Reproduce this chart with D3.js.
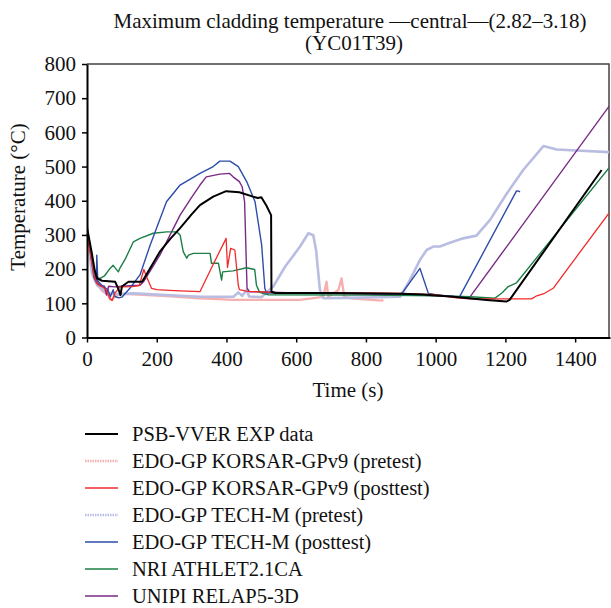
<!DOCTYPE html>
<html><head><meta charset="utf-8">
<script src="https://cdn.jsdelivr.net/npm/d3@7"></script>
<style>body{margin:0;background:#fff}svg{display:block}text{font-family:"Liberation Serif","Times New Roman",serif;fill:#111}</style>
</head><body><svg id="c" width="611" height="608"></svg>
<script>
const titleLines = ["Maximum cladding temperature \u2014central\u2014(2.82\u20133.18)", "(YC01T39)"];
const xTicks = [0,200,400,600,800,1000,1200,1400];
const yTicks = [0,100,200,300,400,500,600,700,800];
const seriesNames = ["PSB-VVER EXP data","EDO-GP KORSAR-GPv9 (pretest)","EDO-GP KORSAR-GPv9 (posttest)","EDO-GP TECH-M (pretest)","EDO-GP TECH-M (posttest)","NRI ATHLET2.1CA","UNIPI RELAP5-3D"];

const expData = [[0,320],[5,295],[14,246],[22,197],[29,173],[43,166],[81,163],[91,139],[96,124],[100,149],[119,163],[158,163],[167,178],[190,218],[209,251],[240,290],[267,320],[300,360],[324,387],[362,412],[399,428],[437,425],[476,412],[490,408],[500,410],[514,387],[528,358],[529,134],[540,130],[700,130],[900,128],[964,126],[1050,119],[1146,110],[1203,105],[1212,110],[1476,490]];
const korsarPre = [[0,330],[8,260],[14,207],[24,168],[43,137],[60,125],[66,112],[72,110],[80,120],[100,128],[133,126],[228,121],[324,115],[420,110],[476,110],[611,110],[678,119],[687,163],[692,119],[721,139],[730,173],[738,119],[756,115],[845,108],[850,110]];
const korsarPost = [[0,310],[10,240],[20,180],[30,155],[42,149],[55,140],[65,115],[72,108],[80,130],[95,148],[129,149],[150,152],[163,199],[172,175],[185,144],[200,140],[250,137],[324,134],[360,210],[399,290],[403,205],[412,261],[424,256],[429,205],[434,152],[437,140],[460,135],[540,132],[700,131],[900,129],[1000,125],[1060,116],[1100,113],[1275,113],[1290,122],[1310,128],[1337,144],[1500,368]];
const techPre = [[0,310],[8,240],[14,188],[29,153],[45,140],[62,129],[90,127],[133,129],[228,124],[324,119],[420,119],[434,132],[445,122],[458,139],[465,120],[500,118],[534,149],[568,207],[611,266],[635,305],[649,299],[657,256],[668,139],[678,115],[750,116],[898,119],[926,168],[955,227],[974,256],[993,266],[1012,266],[1041,277],[1079,290],[1117,298],[1156,344],[1204,421],[1251,490],[1309,560],[1347,550],[1500,542]];
const techPost = [[0,315],[10,250],[20,175],[27,160],[28,241],[31,165],[45,150],[60,140],[67,119],[75,140],[80,120],[91,116],[100,118],[123,144],[152,183],[181,270],[228,397],[267,446],[324,480],[362,500],[381,516],[410,516],[434,500],[458,456],[482,397],[501,270],[510,144],[515,130],[700,130],[900,128],[907,134],[955,202],[979,129],[1000,125],[1068,118],[1232,429],[1238,428],[1242,426]];
const nriData = [[0,315],[10,250],[20,190],[30,175],[38,173],[50,180],[66,202],[75,211],[90,192],[94,202],[110,230],[133,280],[152,290],[190,305],[229,309],[257,309],[267,300],[276,251],[286,232],[291,241],[305,246],[353,246],[357,217],[377,217],[386,168],[389,192],[419,195],[457,204],[481,199],[486,153],[495,132],[520,125],[800,124],[1000,122],[1100,119],[1170,115],[1190,130],[1208,149],[1232,160],[1500,500]];
const unipiData = [[0,315],[10,260],[20,190],[30,160],[37,153],[50,150],[56,124],[62,150],[80,148],[100,150],[152,153],[162,163],[209,241],[267,358],[300,410],[324,446],[342,470],[381,478],[409,480],[419,470],[437,456],[445,441],[452,397],[459,144],[466,134],[600,130],[800,127],[950,124],[1050,120],[1098,118],[1500,680]];

const series = [
  {name: seriesNames[0], data: expData,   color: "#000000", w: 2,   dash: null, lw: 2},
  {name: seriesNames[1], data: korsarPre, color: "#f7b0b0", w: 2.4, dash: "1.5,1", lw: 2.4},
  {name: seriesNames[2], data: korsarPost,color: "#f22a2a", w: 1.3, dash: null, lw: 1.6},
  {name: seriesNames[3], data: techPre,   color: "#b9bde2", w: 2.6, dash: "1.5,1", lw: 2.4},
  {name: seriesNames[4], data: techPost,  color: "#2d4ea8", w: 1.4, dash: null, lw: 1.6},
  {name: seriesNames[5], data: nriData,   color: "#1d7f47", w: 1.4, dash: null, lw: 1.6},
  {name: seriesNames[6], data: unipiData, color: "#7a2a86", w: 1.4, dash: null, lw: 1.6}
];

const svg = d3.select("#c");
const x = d3.scaleLinear().domain([0,1500]).range([87,610]);
const y = d3.scaleLinear().domain([0,800]).range([337.5,64]);

// title
svg.append("text").attr("x",350).attr("y",28).attr("text-anchor","middle").style("font-size","21px").text(titleLines[0]);
svg.append("text").attr("x",354).attr("y",50).attr("text-anchor","middle").style("font-size","21px").text(titleLines[1]);

// plot frame (top and right)
svg.append("path").attr("d",`M${x(0)},${y(800)}H${x(1500)-1}V${y(0)}`).attr("fill","none").attr("stroke","#444").attr("stroke-width",1.5);

svg.append("clipPath").attr("id","pc").append("rect")
  .attr("x",x(0)).attr("y",y(800)).attr("width",x(1500)-1-x(0)).attr("height",y(0)-y(800));

const line = d3.line().x(d=>x(d[0])).y(d=>y(d[1]));
const g = svg.append("g").attr("clip-path","url(#pc)");
const order = [1,3,6,5,4,2,0];
order.forEach(i=>{
  const s = series[i];
  g.append("path").datum(s.data).attr("d",line).attr("fill","none")
   .attr("stroke",s.color).attr("stroke-width",s.w).attr("stroke-linejoin","round");
});

// axes
const xa = svg.append("g").attr("transform",`translate(0,${y(0)})`)
  .call(d3.axisBottom(x).tickValues(xTicks).tickFormat(d3.format("d")).tickSize(5).tickPadding(9).tickSizeOuter(0));
const ya = svg.append("g").attr("transform",`translate(${x(0)},0)`)
  .call(d3.axisLeft(y).tickValues(yTicks).tickFormat(d3.format("d")).tickSize(5).tickPadding(6).tickSizeOuter(0));
[xa,ya].forEach(a=>{
  a.select(".domain").attr("stroke","#000").attr("stroke-width",2);
  a.selectAll(".tick line").attr("stroke","#000").attr("stroke-width",1.5);
  a.selectAll(".tick text").style("font-size","21px").style("font-family","'Liberation Serif',serif").attr("fill","#111");
});

svg.append("text").attr("x",348).attr("y",397).attr("text-anchor","middle").style("font-size","21px").text("Time (s)");
svg.append("text").attr("transform","translate(25,197) rotate(-90)").attr("text-anchor","middle").style("font-size","21px").text("Temperature (\u00b0C)");

// legend
const lg = svg.append("g");
series.forEach((s,i)=>{
  const cy = 434 + i*27;
  lg.append("line").attr("x1",85).attr("x2",118).attr("y1",cy).attr("y2",cy)
    .attr("stroke",s.color).attr("stroke-width",s.lw).attr("stroke-dasharray",s.dash);
  lg.append("text").attr("x",132).attr("y",cy+7).style("font-size","20.5px").text(s.name);
});
</script></body></html>
